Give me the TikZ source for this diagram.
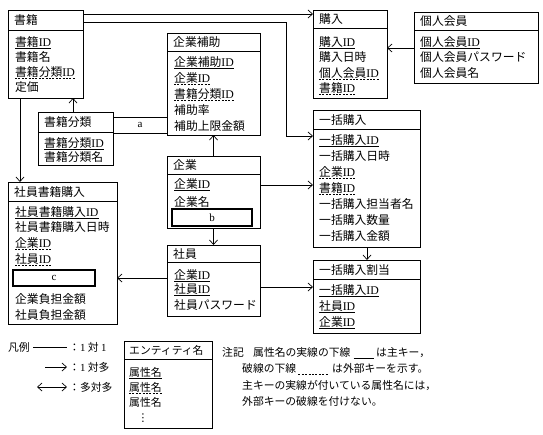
\documentclass[tikz,border=0pt]{standalone}
\usepackage{fontspec}
\setmainfont{Noto Sans CJK JP}
\newfontfamily\latf{Liberation Serif}
\newfontfamily\dvsf{DejaVu Sans}
\usetikzlibrary{arrows.meta}
\newcommand\eid{{\latf ID}}
\newcommand\ulpk[1]{\draw[pkul] ([yshift=-2.2pt]#1.base west) -- ([yshift=-2.2pt]#1.base east);}
\newcommand\ulfk[1]{\draw[fkul] ([yshift=-2.2pt]#1.base west) -- ([yshift=-2.2pt]#1.base east);}
\newcommand\mkent[6]{%
  \node[ebox, minimum width=#4, minimum height=#5] (#1) at (#2,#3) {};
  \draw[sepl] ([yshift=-#6pt]#1.north west) -- ([yshift=-#6pt]#1.north east);}
\begin{document}
\begin{tikzpicture}[x=1pt,y=-1pt]
\tikzset{
 ebox/.style={draw, line width=0.7pt, anchor=north west, inner sep=0pt, outer sep=0pt},
 sepl/.style={line width=0.7pt},
 ttl/.style={anchor=base west, inner sep=0pt, font=\fontsize{11.8}{14}\selectfont},
 atr/.style={anchor=base west, inner sep=0pt, font=\fontsize{11.8}{14}\selectfont},
 sml/.style={anchor=base west, inner sep=0pt, font=\fontsize{10.8}{13}\selectfont},
 pkul/.style={line width=0.6pt},
 fkul/.style={line width=0.6pt, dash pattern=on 2pt off 1.4pt},
 conn/.style={line width=0.7pt},
 arr/.style={conn, -{Straight Barb[length=4.5pt,width=8pt]}},
 arrb/.style={conn, {Straight Barb[length=4.5pt,width=8pt]}-{Straight Barb[length=4.5pt,width=8pt]}},
 blank/.style={draw, line width=0.7pt, inner sep=0pt, outer sep=0pt, font=\fontsize{11}{13}\selectfont\latf},
 blankb/.style={blank, line width=1.1pt},
}
\useasboundingbox (0,0) rectangle (543,434);
\fill[white] (0,0) rectangle (543,434);

% 書籍
\mkent{sk}{8}{10}{75}{88}{20}
\node[ttl] (skt) at (14,24.5) {書籍};
\node[atr] (sk1) at (15,46.5) {書籍\eid}; \ulpk{sk1}
\node[atr] (sk2) at (15,61.5) {書籍名};
\node[atr] (sk3) at (15,76.5) {書籍分類\eid}; \ulfk{sk3}
\node[atr] (sk4) at (15,91.5) {定価};

% 企業補助
\mkent{hj}{167}{33}{93}{102}{18}
\node[ttl] (hjt) at (173,46.5) {企業補助};
\node[atr] (hj1) at (174,66.5) {企業補助\eid}; \ulpk{hj1}
\node[atr] (hj2) at (174,82.5) {企業\eid}; \ulfk{hj2}
\node[atr] (hj3) at (174,98.5) {書籍分類\eid}; \ulfk{hj3}
\node[atr] (hj4) at (174,114.5) {補助率};
\node[atr] (hj5) at (174,130.5) {補助上限金額};

% 購入
\mkent{kn}{313}{10}{74}{88}{18}
\node[ttl] (knt) at (319,23.5) {購入};
\node[atr] (kn1) at (319,46.5) {購入\eid}; \ulpk{kn1}
\node[atr] (kn2) at (319,61.5) {購入日時};
\node[atr] (kn3) at (319,77.5) {個人会員\eid}; \ulfk{kn3}
\node[atr] (kn4) at (319,92.5) {書籍\eid}; \ulfk{kn4}

% 個人会員
\mkent{kj}{414}{12}{124}{71}{18}
\node[ttl] (kjt) at (420,25.5) {個人会員};
\node[atr] (kj1) at (420,46.5) {個人会員\eid}; \ulpk{kj1}
\node[atr] (kj2) at (420,61.5) {個人会員パスワード};
\node[atr] (kj3) at (420,77.5) {個人会員名};

% 書籍分類
\mkent{bn}{38}{112}{75}{53}{20}
\node[ttl] (bnt) at (44,126.5) {書籍分類};
\node[atr] (bn1) at (44,147) {書籍分類\eid}; \ulpk{bn1}
\node[atr] (bn2) at (44,161.5) {書籍分類名};

% 一括購入
\mkent{ik}{313}{110}{107}{137}{19}
\node[ttl] (ikt) at (319,124) {一括購入};
\node[atr] (ik1) at (319,144.5) {一括購入\eid}; \ulpk{ik1}
\node[atr] (ik2) at (319,160.5) {一括購入日時};
\node[atr] (ik3) at (319,176.5) {企業\eid}; \ulfk{ik3}
\node[atr] (ik4) at (319,192.5) {書籍\eid}; \ulfk{ik4}
\node[atr] (ik5) at (319,208.5) {一括購入担当者名};
\node[atr] (ik6) at (319,224.5) {一括購入数量};
\node[atr] (ik7) at (319,240.5) {一括購入金額};

% 社員書籍購入
\mkent{ss}{8}{182}{109}{142}{19}
\node[ttl] (sst) at (14,196) {社員書籍購入};
\node[atr] (ss1) at (15,216.5) {社員書籍購入\eid}; \ulpk{ss1}
\node[atr] (ss2) at (15,231.5) {社員書籍購入日時};
\node[atr] (ss3) at (15,247.5) {企業\eid}; \ulfk{ss3}
\node[atr] (ss4) at (15,263.5) {社員\eid}; \ulfk{ss4}
\node[blankb, minimum width=82, minimum height=16] (c) at (54,278) {c};
\node[atr] (ss5) at (15,303.5) {企業負担金額};
\node[atr] (ss6) at (15,319.5) {社員負担金額};

% 企業
\mkent{kg}{167}{156}{93}{72}{18}
\node[ttl] (kgt) at (173,169.5) {企業};
\node[atr] (kg1) at (174,188.5) {企業\eid}; \ulpk{kg1}
\node[atr] (kg2) at (174,206) {企業名};
\node[blankb, minimum width=80, minimum height=17] (b) at (212,217.5) {b};

% 社員
\mkent{sn}{167}{245}{93}{71}{17}
\node[ttl] (snt) at (173,258) {社員};
\node[atr] (sn1) at (174,279) {企業\eid}; \ulpk{sn1}
\node[atr] (sn2) at (174,293.5) {社員\eid}; \ulpk{sn2}
\node[atr] (sn3) at (174,309.5) {社員パスワード};

% 一括購入割当
\mkent{wr}{313}{260}{107}{73}{19}
\node[ttl] (wrt) at (319,274.5) {一括購入割当};
\node[atr] (wr1) at (319,294.5) {一括購入\eid}; \ulpk{wr1}
\node[atr] (wr2) at (319,310.5) {社員\eid}; \ulpk{wr2}
\node[atr] (wr3) at (319,326.5) {企業\eid}; \ulpk{wr3}

% a
\node[blank, minimum width=54, minimum height=16] (a) at (140,125) {a};

% connectors
\draw[arr] ([yshift=-4pt]sk.north east) -- ([yshift=-4pt]sk.north east -| kn.west);
\coordinate (ikin) at ([yshift=-26pt]ik.north west);
\draw[arr] ([yshift=-12pt]sk.north east) -| ([xshift=-27pt]ikin) -- (ikin);
\draw[arr] ([xshift=12pt]sk.south west) -- ([xshift=12pt]sk.south west |- ss.north);
\draw[arr] ([xshift=35pt]bn.north west) -- ([xshift=35pt]bn.north west |- sk.south);
\draw[arr] (kg.north) -- (hj.south);
\draw[arr] (kg.south) -- (sn.north);
\draw[arr] ([yshift=-29pt]kg.north east) -- ([yshift=-29pt]kg.north east -| ik.west);
\draw[arr] ([yshift=-33pt]sn.north west) -- ([yshift=-33pt]sn.north west -| ss.east);
\draw[arr] ([yshift=-42pt]sn.north east) -- ([yshift=-42pt]sn.north east -| wr.west);
\draw[arr] ([xshift=54pt]ik.south west) -- ([xshift=54pt]ik.south west |- wr.north);
\draw[arr] ([yshift=-36pt]kj.north west) -- ([yshift=-36pt]kj.north west -| kn.east);

% legend
\node[sml] (hanrei) at (8,351) {凡例};
\coordinate (l1a) at (33,347); \coordinate (l1b) at (67,347);
\coordinate (l2a) at (45,367); \coordinate (l2b) at (67,367);
\coordinate (l3a) at (37,387); \coordinate (l3b) at (67,387);
\draw[conn] (l1a) -- (l1b);
\draw[arr] (l2a) -- (l2b);
\draw[arrb] (l3a) -- (l3b);
\node[sml] (r1) at (69,351) {：{\latf 1} 対 {\latf 1}};
\node[sml] (r2) at (69,371) {：{\latf 1} 対多};
\node[sml] (r3) at (69,391) {：多対多};

\mkent{lg}{124}{341}{88}{87}{18}
\node[sml] (lgt) at (129,354.5) {エンティティ名};
\node[sml] (lg1) at (129,376) {属性名}; \ulpk{lg1}
\node[sml] (lg2) at (129,391) {属性名}; \ulfk{lg2}
\node[sml] (lg3) at (129,406) {属性名};
\node[inner sep=0pt, font=\fontsize{10.8}{13}\dvsf] (lg4) at (143,418) {⋮};

% notes
\node[sml] (nt) at (222,356) {注記};
\node[sml] (n1) at (253,356) {属性名の実線の下線};
\draw[pkul] ([xshift=3pt,yshift=-2pt]n1.base east) -- ([xshift=23pt,yshift=-2pt]n1.base east);
\node[sml] (n1b) at (376,356) {は主キー，};
\node[sml] (n2) at (242,372) {破線の下線};
\draw[fkul] ([xshift=2pt,yshift=-2pt]n2.base east) -- ([xshift=32pt,yshift=-2pt]n2.base east);
\node[sml] (n2b) at (332,372) {は外部キーを示す。};
\node[sml] (n3) at (242,389) {主キーの実線が付いている属性名には，};
\node[sml] (n4) at (242,405) {外部キーの破線を付けない。};
\end{tikzpicture}
\end{document}
